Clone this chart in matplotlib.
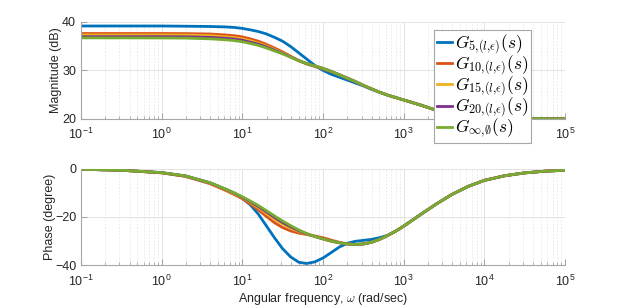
import numpy as np
import matplotlib
matplotlib.use('Agg')
import matplotlib.pyplot as plt
from matplotlib.ticker import LogLocator, NullFormatter

plt.rcParams['font.family'] = ['Liberation Sans', 'DejaVu Sans']
plt.rcParams['mathtext.fontset'] = 'cm'

# frequency grid (log10 of rad/s)
log_w = [-1, -0.5, 0, 0.3, 0.6, 0.8, 0.9, 1.0, 1.1, 1.2, 1.3, 1.4, 1.5, 1.6, 1.7,
         1.8, 1.9, 2.0, 2.1, 2.2, 2.3, 2.4, 2.5, 2.6, 2.7, 2.8, 2.9, 3.0, 3.2, 3.4,
         3.6, 3.8, 4.0, 4.25, 4.5, 4.75, 5.0]

# magnitude (dB)
mag_inf = [36.7, 36.7, 36.68, 36.65, 36.5, 36.3, 36.15, 35.9, 35.55, 35.15, 34.6, 34.0,
           33.4, 32.7, 32.0, 31.4, 30.9, 30.4, 29.8, 29.1, 28.4, 27.7, 26.9, 26.2, 25.5,
           24.9, 24.4, 23.9, 22.9, 21.8, 21.1, 20.7, 20.4, 20.2, 20.1, 20.05, 20.0]
mag_5 = [39.15, 39.15, 39.15, 39.1, 39.05, 38.95, 38.85, 38.65, 38.35, 38.0, 37.5, 36.8,
         36.0, 34.9, 33.6, 32.3, 31.0, 30.0, 29.2, 28.6, 28.0, 27.4, 26.8, 26.1, 25.5,
         24.9, 24.4, 23.9, 22.9, 21.8, 21.1, 20.7, 20.4, 20.2, 20.1, 20.05, 20.0]
mag_10 = [37.6, 37.6, 37.6, 37.58, 37.5, 37.3, 37.15, 36.9, 36.5, 36.0, 35.35, 34.6,
          33.8, 32.9, 32.0, 31.3, 30.8, 30.3, 29.75, 29.1, 28.4, 27.7, 26.9, 26.2, 25.5,
          24.9, 24.4, 23.9, 22.9, 21.8, 21.1, 20.7, 20.4, 20.2, 20.1, 20.05, 20.0]
mag_15 = [37.3, 37.3, 37.3, 37.27, 37.15, 36.9, 36.75, 36.5, 36.1, 35.6, 35.0, 34.3,
          33.6, 32.8, 32.0, 31.35, 30.9, 30.4, 29.8, 29.1, 28.4, 27.7, 26.9, 26.2, 25.5,
          24.9, 24.4, 23.9, 22.9, 21.8, 21.1, 20.7, 20.4, 20.2, 20.1, 20.05, 20.0]
mag_20 = [36.95, 36.95, 36.95, 36.92, 36.8, 36.6, 36.45, 36.2, 35.8, 35.4, 34.8, 34.15,
          33.5, 32.75, 32.0, 31.4, 30.9, 30.4, 29.8, 29.1, 28.4, 27.7, 26.9, 26.2, 25.5,
          24.9, 24.4, 23.9, 22.9, 21.8, 21.1, 20.7, 20.4, 20.2, 20.1, 20.05, 20.0]

# phase (deg)
ph_inf = [-0.2, -0.6, -1.6, -3.0, -5.8, -8.5, -10.0, -11.6, -13.4, -15.3, -17.4, -19.6,
          -21.7, -23.6, -25.4, -26.9, -28.1, -29.1, -30.0, -30.7, -31.2, -31.4, -31.2,
          -30.5, -29.3, -27.7, -25.9, -23.8, -19.2, -14.7, -10.6, -7.3, -4.8, -2.9,
          -1.7, -1.0, -0.6]
ph_5 = [-0.2, -0.6, -1.6, -3.0, -5.8, -8.6, -10.2, -12.3, -15.0, -18.9, -23.8, -28.7,
        -33.2, -36.6, -38.8, -39.3, -38.6, -37.0, -34.8, -32.5, -30.9, -30.1, -29.7,
        -29.3, -28.6, -27.6, -25.9, -23.8, -19.2, -14.7, -10.6, -7.3, -4.8, -2.9,
        -1.7, -1.0, -0.6]
ph_10 = [-0.2, -0.6, -1.7, -3.2, -6.2, -9.1, -10.7, -12.4, -14.6, -17.1, -19.8, -22.4,
         -24.4, -25.8, -26.7, -27.3, -27.9, -28.6, -29.6, -30.5, -31.2, -31.4, -31.2,
         -30.5, -29.3, -27.7, -25.9, -23.8, -19.2, -14.7, -10.6, -7.3, -4.8, -2.9,
         -1.7, -1.0, -0.6]
ph_15 = [-0.2, -0.6, -1.65, -3.1, -6.0, -8.8, -10.4, -12.0, -14.0, -16.2, -18.6, -21.0,
         -23.0, -24.7, -26.0, -27.1, -28.1, -29.1, -30.0, -30.7, -31.2, -31.4, -31.2,
         -30.5, -29.3, -27.7, -25.9, -23.8, -19.2, -14.7, -10.6, -7.3, -4.8, -2.9,
         -1.7, -1.0, -0.6]
ph_20 = [-0.2, -0.6, -1.6, -3.05, -5.9, -8.6, -10.1, -11.8, -13.7, -15.7, -17.9, -20.2,
         -22.3, -24.1, -25.7, -27.0, -28.1, -29.1, -30.0, -30.7, -31.2, -31.4, -31.2,
         -30.5, -29.3, -27.7, -25.9, -23.8, -19.2, -14.7, -10.6, -7.3, -4.8, -2.9,
         -1.7, -1.0, -0.6]

labels = [r'$G_{5{,}(l{,}\epsilon)}(s)$', r'$G_{10{,}(l{,}\epsilon)}(s)$',
          r'$G_{15{,}(l{,}\epsilon)}(s)$', r'$G_{20{,}(l{,}\epsilon)}(s)$',
          r'$G_{\infty{,}\emptyset}(s)$']
colors = ['#0072BD', '#D95319', '#EDB120', '#7E2F8E', '#77AC30']
mags = [mag_5, mag_10, mag_15, mag_20, mag_inf]
phases = [ph_5, ph_10, ph_15, ph_20, ph_inf]

w = 10.0 ** np.array(log_w)

fig = plt.figure(figsize=(6.23, 3.08), dpi=100)
ax1 = fig.add_axes([0.130, 0.614, 0.777, 0.315])
ax2 = fig.add_axes([0.130, 0.139, 0.777, 0.313])

for m, p, c, lab in zip(mags, phases, colors, labels):
    ax1.semilogx(w, m, color=c, lw=2.0, label=lab)
    ax2.semilogx(w, p, color=c, lw=2.0)

tc = '#262626'
for ax in (ax1, ax2):
    ax.set_xlim(1e-1, 1e5)
    ax.xaxis.set_major_locator(LogLocator(base=10, numticks=10))
    ax.xaxis.set_minor_locator(LogLocator(base=10, subs=np.arange(2, 10), numticks=20))
    ax.xaxis.set_minor_formatter(NullFormatter())
    ax.grid(True, which='major', color='#e3e3e3', lw=0.7)
    ax.grid(True, which='minor', axis='x', color='#e6e6e6', lw=0.6, ls=(0, (2, 2)))
    ax.set_axisbelow(True)
    for s in ('top', 'right'):
        ax.spines[s].set_visible(False)
    for s in ('left', 'bottom'):
        ax.spines[s].set_color('#a6a6a6')
        ax.spines[s].set_linewidth(0.8)
    ax.tick_params(which='both', direction='in', colors='#a6a6a6', labelcolor=tc, labelsize=9)
    ax.tick_params(which='major', length=4)
    ax.tick_params(which='minor', length=2)
    ax.tick_params(axis='x', which='major', pad=6)

ax1.set_ylim(20, 40)
ax1.set_yticks([20, 30, 40])
ax1.set_ylabel('Magnitude (dB)', fontsize=9, color=tc, labelpad=0)
ax2.set_ylim(-40, 0)
ax2.set_yticks([-40, -20, 0])
ax2.set_ylabel('Phase (degree)', fontsize=9, color=tc, labelpad=-1)
ax2.set_xlabel(r'Angular frequency, $\omega$ (rad/sec)', fontsize=9, color=tc, labelpad=2)

leg = ax1.legend(loc='upper left', bbox_to_anchor=(0.697, 0.903), bbox_transform=fig.transFigure,
                 borderaxespad=0, fontsize=12.5, handlelength=0.9, handletextpad=0.15,
                 labelspacing=-0.18, borderpad=0.15, fancybox=False, framealpha=1)
leg.get_frame().set_edgecolor('#a6a6a6')
leg.get_frame().set_linewidth(0.8)

fig.savefig('out.png', dpi=100)
